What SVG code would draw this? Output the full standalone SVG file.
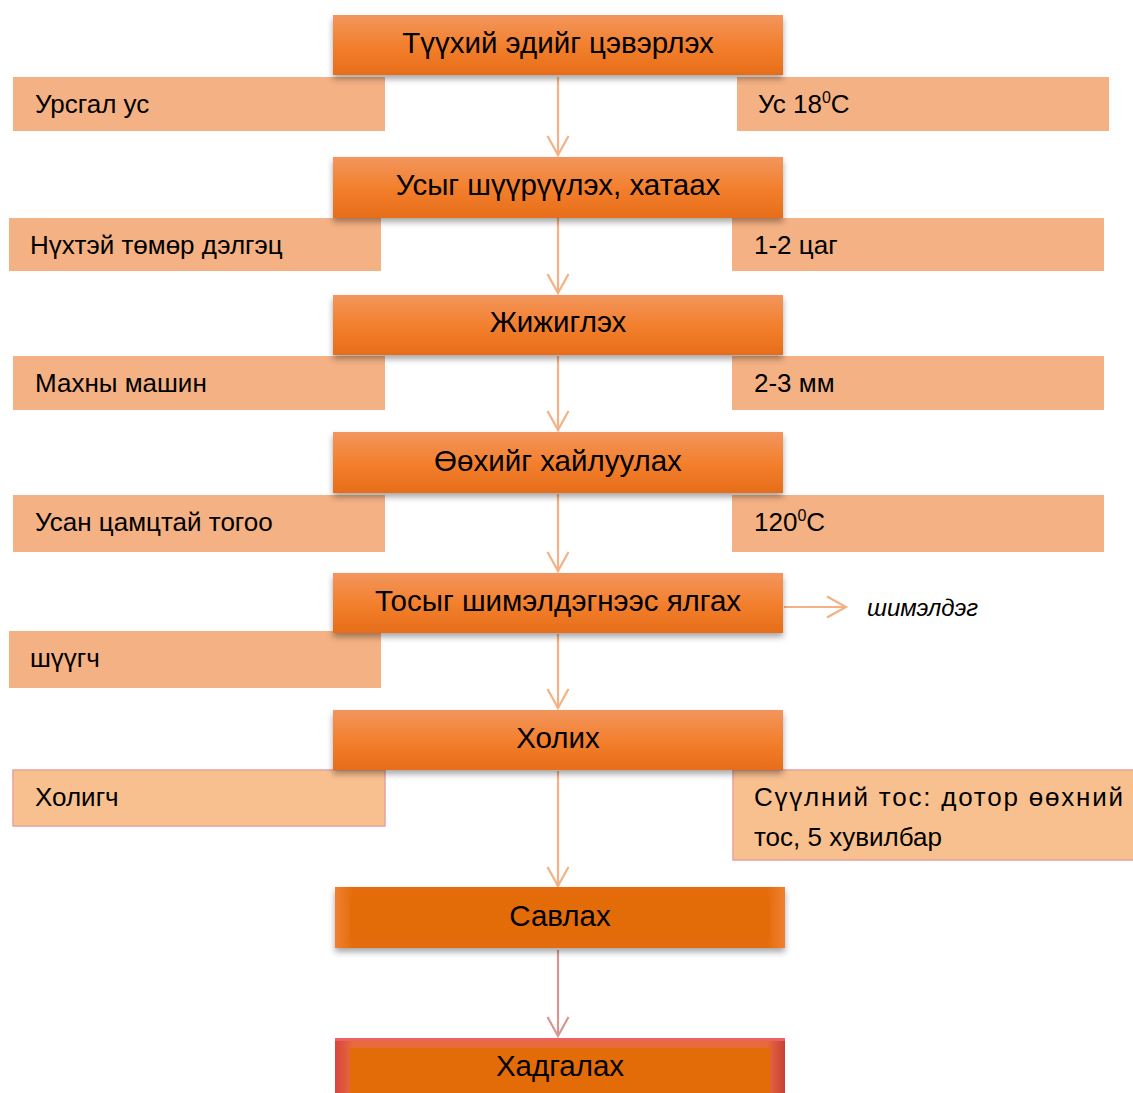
<svg xmlns="http://www.w3.org/2000/svg" width="1133" height="1093" viewBox="0 0 1133 1093">
<defs>
<linearGradient id="g" x1="0" y1="0" x2="0" y2="1">
<stop offset="0" stop-color="#F2965E"/>
<stop offset="0.5" stop-color="#F3802E"/>
<stop offset="1" stop-color="#E76D19"/>
</linearGradient>
<linearGradient id="bev" x1="0" y1="0" x2="1" y2="0">
<stop offset="0" stop-color="#F08030"/>
<stop offset="0.04" stop-color="#E46C0A"/>
<stop offset="0.96" stop-color="#E46C0A"/>
<stop offset="1" stop-color="#F08030"/>
</linearGradient>
<linearGradient id="bevr" x1="0" y1="0" x2="1" y2="0">
<stop offset="0" stop-color="#D9453E"/>
<stop offset="0.04" stop-color="#E86A3A"/>
<stop offset="0.96" stop-color="#E86A3A"/>
<stop offset="1" stop-color="#C94038"/>
</linearGradient>
<filter id="sh" x="-10%" y="-20%" width="120%" height="160%">
<feDropShadow dx="0" dy="4" stdDeviation="3" flood-color="#000" flood-opacity="0.35"/>
</filter>
<marker id="ar" viewBox="0 0 24 24" refX="21" refY="12" markerWidth="24" markerHeight="24" markerUnits="userSpaceOnUse" orient="auto">
<path d="M2,1.5 L21,12 L2,22.5" fill="none" stroke="#F4B183" stroke-width="2.2"/>
</marker>
<marker id="arp" viewBox="0 0 24 24" refX="21" refY="12" markerWidth="24" markerHeight="24" markerUnits="userSpaceOnUse" orient="auto">
<path d="M2,1.5 L21,12 L2,22.5" fill="none" stroke="#D99594" stroke-width="2.2"/>
</marker>
</defs>
<style>
.main{fill:url(#g);filter:url(#sh)}
.side{fill:#F4B183}
.side2{fill:#F9C08F;stroke:#E6A0A0;stroke-width:1.5}
.mt{font-family:"Liberation Sans",Arial,sans-serif;font-size:29.5px;fill:#000;text-anchor:middle}
.st{font-family:"Liberation Sans",Arial,sans-serif;font-size:26px;fill:#000}
.cn{stroke:#F4B183;stroke-width:2.2;fill:none}
</style>
<rect width="1133" height="1093" fill="#fff"/>

<g id="side-boxes">
<g id="s1l"><rect class="side" x="13" y="77" width="372" height="54"/><text class="st" x="35" y="113">Урсгал ус</text></g>
<g id="s1r"><rect class="side" x="737" y="77" width="372" height="54"/><text class="st" x="758" y="113">Ус 18<tspan dy="-10" font-size="16">0</tspan><tspan dy="10">C</tspan></text></g>
<g id="s2l"><rect class="side" x="9" y="218" width="372" height="53"/><text class="st" x="30" y="254">Нүхтэй төмөр дэлгэц</text></g>
<g id="s2r"><rect class="side" x="732" y="218" width="372" height="53"/><text class="st" x="754" y="254">1-2 цаг</text></g>
<g id="s3l"><rect class="side" x="13" y="356" width="372" height="54"/><text class="st" x="35" y="392">Махны машин</text></g>
<g id="s3r"><rect class="side" x="732" y="356" width="372" height="54"/><text class="st" x="754" y="392">2-3 мм</text></g>
<g id="s4l"><rect class="side" x="13" y="495" width="372" height="57"/><text class="st" x="35" y="531">Усан цамцтай тогоо</text></g>
<g id="s4r"><rect class="side" x="732" y="495" width="372" height="57"/><text class="st" x="754" y="531">120<tspan dy="-10" font-size="16">0</tspan><tspan dy="10">C</tspan></text></g>
<g id="s5l"><rect class="side" x="9" y="631" width="372" height="57"/><text class="st" x="30" y="667">шүүгч</text></g>
<g id="s6l"><rect class="side2" x="13" y="770" width="372" height="56"/><text class="st" x="35" y="806">Холигч</text></g>
<g id="s6r"><rect class="side2" x="733" y="770" width="402" height="90"/><text class="st" x="754" y="806" textLength="369" lengthAdjust="spacing">Сүүлний тос: дотор өөхний</text><text class="st" x="754" y="846">тос, 5 хувилбар</text></g>
</g>

<g id="connectors">
<line class="cn" x1="558" y1="77" x2="558" y2="155" marker-end="url(#ar)"/>
<line class="cn" x1="558" y1="218" x2="558" y2="293" marker-end="url(#ar)"/>
<line class="cn" x1="558" y1="356" x2="558" y2="430" marker-end="url(#ar)"/>
<line class="cn" x1="558" y1="494" x2="558" y2="571" marker-end="url(#ar)"/>
<line class="cn" x1="558" y1="634" x2="558" y2="708" marker-end="url(#ar)"/>
<line class="cn" x1="558" y1="771" x2="558" y2="886" marker-end="url(#ar)"/>
<line x1="558" y1="950" x2="558" y2="1036" stroke="#D99594" stroke-width="2.2" marker-end="url(#arp)"/>
<line class="cn" x1="784" y1="607" x2="846" y2="607" marker-end="url(#ar)"/>
</g>
<text x="867" y="616" font-family="Liberation Sans,Arial,sans-serif" font-size="24" font-style="italic">шимэлдэг</text>

<g id="n1"><rect class="main" x="333" y="15" width="450" height="60"/><text class="mt" x="558" y="53">Түүхий эдийг цэвэрлэх</text></g>
<g id="n2"><rect class="main" x="333" y="157" width="450" height="61"/><text class="mt" x="558" y="195">Усыг шүүрүүлэх, хатаах</text></g>
<g id="n3"><rect class="main" x="333" y="295" width="450" height="60"/><text class="mt" x="558" y="332">Жижиглэх</text></g>
<g id="n4"><rect class="main" x="333" y="432" width="450" height="61"/><text class="mt" x="558" y="471">Өөхийг хайлуулах</text></g>
<g id="n5"><rect class="main" x="333" y="573" width="450" height="60"/><text class="mt" x="558" y="611">Тосыг шимэлдэгнээс ялгах</text></g>
<g id="n6"><rect class="main" x="333" y="710" width="450" height="60"/><text class="mt" x="558" y="748">Холих</text></g>
<g id="n7"><rect x="335" y="887" width="450" height="61" fill="url(#bev)" filter="url(#sh)"/><rect x="350" y="897" width="420" height="42" fill="#E36C09"/><text class="mt" x="560" y="926">Савлах</text></g>
<g id="n8"><rect x="335" y="1038" width="450" height="60" fill="url(#bevr)"/><rect x="335" y="1038" width="450" height="3" fill="#F06060"/><rect x="350" y="1048" width="420" height="45" fill="#E36C09"/><text class="mt" x="560" y="1076">Хадгалах</text></g>
</svg>
